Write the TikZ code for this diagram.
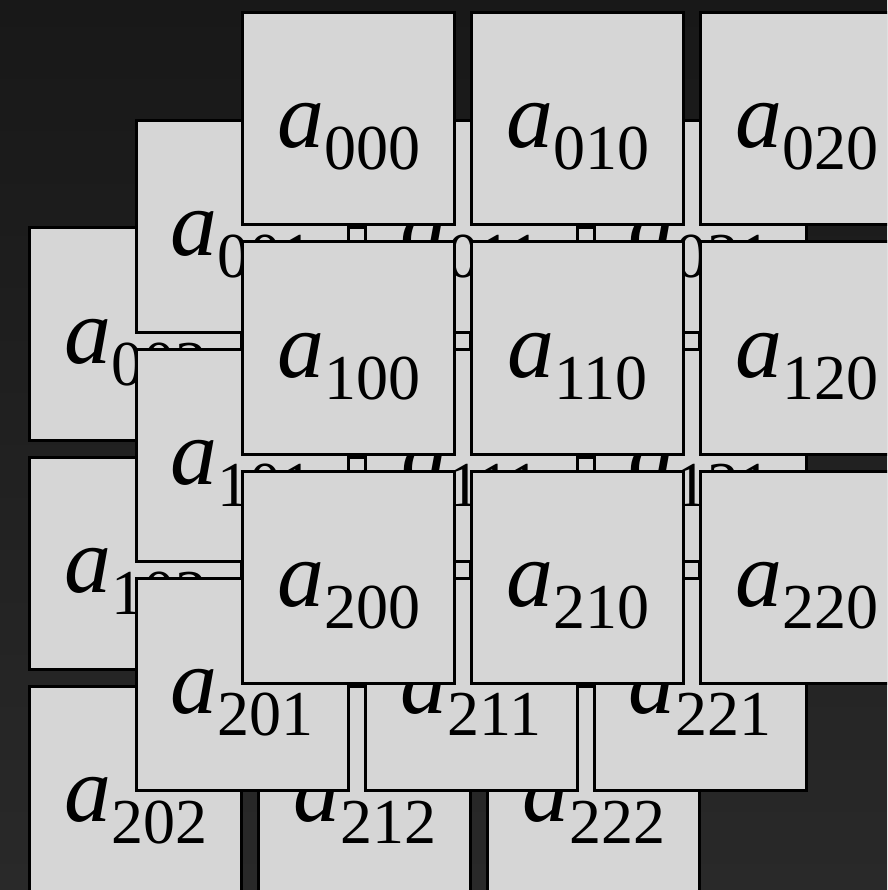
\documentclass[tikz,border=0pt]{standalone}
\usepackage{fontspec}
\setmainfont{Liberation Serif}
\definecolor{feldgrau}{RGB}{214,214,214}
\definecolor{hgoben}{RGB}{24,24,24}
\definecolor{hgunten}{RGB}{41,41,41}
\newcommand{\zelle}[1]{\textit{a}\raisebox{-22pt}{\fontsize{64}{64}\selectfont #1}}

\begin{document}
\begin{tikzpicture}[x=1pt, y=-1pt,
			feld/.style={draw=black, fill=feldgrau, line width=3pt, minimum size=212pt, inner sep=0pt,
			text height=58pt, text depth=0pt, font=\fontsize{94}{94}\selectfont}]
			%Hintergrund
			\useasboundingbox (0,0) rectangle (887,890);
			\shade[top color=hgoben, bottom color=hgunten] (0,0) rectangle (887,890);
			\clip (0,0) rectangle (887,890); %Bildbereich
			%Felder zeichnen, hinterste Ebene zuerst
			\foreach \k in {2,1,0}
				\foreach \i in {0,1,2}
					\foreach \j in {0,1,2}
						\node[feld] (a\i\j\k) at ({348.5+229*\j-106.5*\k}, {119+229*\i+107.5*\k}) {\zelle{\i\j\k}};
		\end{tikzpicture}
\end{document}
